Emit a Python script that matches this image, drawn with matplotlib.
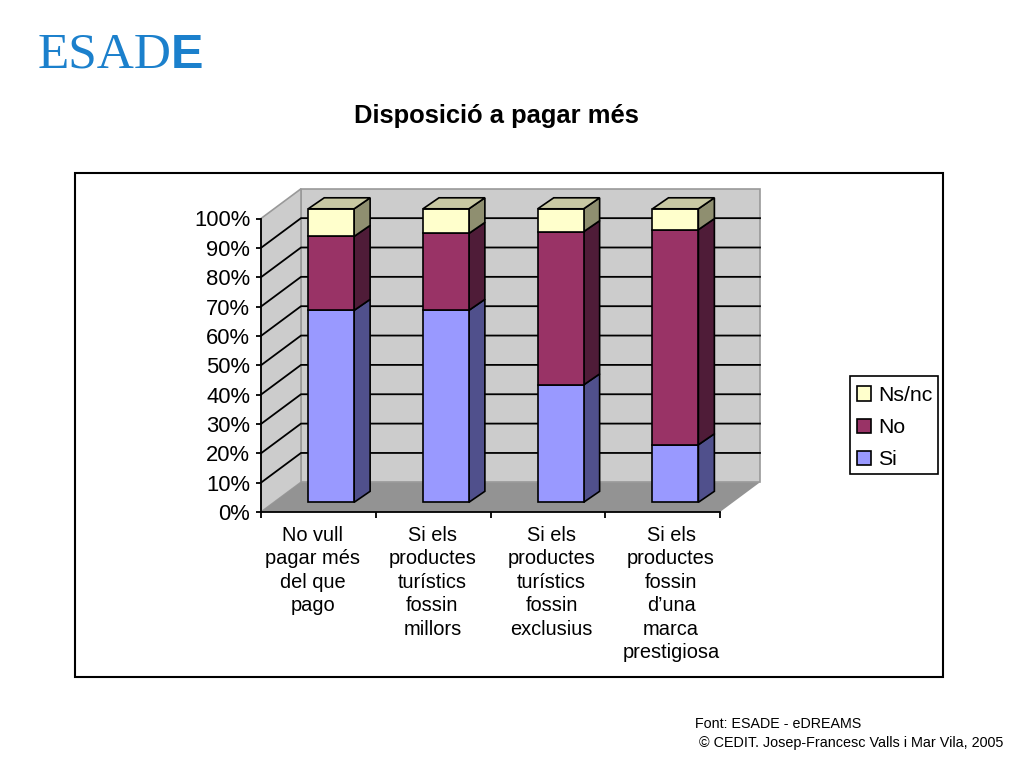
import matplotlib
matplotlib.use("Agg")
import matplotlib.pyplot as plt
from matplotlib.patches import Polygon, Rectangle

plt.rcParams['font.family'] = ['Liberation Sans', 'DejaVu Sans']

categories = ["No vull\npagar més\ndel que\npago",
              "Si els\nproductes\nturístics\nfossin\nmillors",
              "Si els\nproductes\nturístics\nfossin\nexclusius",
              "Si els\nproductes\nfossin\nd’una\nmarca\nprestigiosa"]
si = [65.4, 65.4, 40.0, 19.6]
no = [25.2, 26.2, 52.2, 73.3]
ns_nc = [9.4, 8.4, 7.8, 7.1]
series_names = ["Si", "No", "Ns/nc"]
y_ticks = list(range(0, 101, 10))
y_labels = [f"{v}%" for v in y_ticks]

FRONT = ["#9999FF", "#993366", "#FFFFCC"]
SIDE = ["#50508C", "#4F1C38", "#8F8F70"]
TOP = "#C9C9A3"
W, H = 1024, 768

fig = plt.figure(figsize=(W / 100, H / 100), dpi=100, facecolor="white")


def px_rect(x0, y0, x1, y1):
    return [x0 / W, 1 - y1 / H, (x1 - x0) / W, (y1 - y0) / H]


# outer chart frame and legend box
fig.add_artist(Rectangle((75 / W, 1 - 677 / H), 868 / W, 504 / H, transform=fig.transFigure,
                         facecolor="white", edgecolor="black", linewidth=1.5, zorder=-2))
fig.add_artist(Rectangle((850 / W, 1 - 474 / H), 88 / W, 98 / H, transform=fig.transFigure,
                         facecolor="white", edgecolor="black", linewidth=1.2, zorder=-1))

ax = fig.add_axes(px_rect(261, 218.5, 720, 512))
ax.patch.set_visible(False)
ax.set_xlim(0, 4)
ax.set_ylim(0, 100)

per_cat = 114.75
per_pct = 2.935
wall_dx, wall_dy = 40 / per_cat, 29.7 / per_pct
bar_dx, bar_dy = 12.8 / per_cat, 9.7 / per_pct
depth_dx, depth_dy = 16 / per_cat, 11 / per_pct
bar_w = 0.4
n = len(categories)

# walls and floor
ax.add_patch(Polygon([(wall_dx, wall_dy), (n + wall_dx, wall_dy), (n + wall_dx, 100 + wall_dy), (wall_dx, 100 + wall_dy)],
                     facecolor="#CCCCCC", edgecolor="#999999", linewidth=1.2, zorder=1, clip_on=False))
ax.add_patch(Polygon([(0, 0), (wall_dx, wall_dy), (wall_dx, 100 + wall_dy), (0, 100)],
                     facecolor="#CCCCCC", edgecolor="#999999", linewidth=1.2, zorder=1, clip_on=False))
ax.add_patch(Polygon([(0, 0), (wall_dx, wall_dy), (n + wall_dx, wall_dy), (n, 0)],
                     facecolor="#939393", edgecolor="none", zorder=2, clip_on=False))

# gridlines
for v in y_ticks[1:-1]:
    ax.plot([0, wall_dx, n + wall_dx], [v, v + wall_dy, v + wall_dy], color="black", lw=1.3,
            zorder=2, clip_on=False, solid_joinstyle="miter")

# bars
centers = [i + 0.5 + bar_dx for i in range(n)]
bottoms = [bar_dy] * n
for s, vals in enumerate([si, no, ns_nc]):
    ax.bar(centers, vals, bar_w, bottom=bottoms, color=FRONT[s], edgecolor="black",
           linewidth=1.2, zorder=5 + s * 0.1, clip_on=False, label=series_names[s])
    for c, v, bt in zip(centers, vals, bottoms):
        xr = c + bar_w / 2
        ax.add_patch(Polygon([(xr, bt), (xr + depth_dx, bt + depth_dy), (xr + depth_dx, bt + v + depth_dy), (xr, bt + v)],
                             facecolor=SIDE[s], edgecolor="black", linewidth=1.2,
                             zorder=4 + s * 0.1, clip_on=False))
    bottoms = [bt + v for bt, v in zip(bottoms, vals)]
for c, t in zip(centers, bottoms):
    xl, xr = c - bar_w / 2, c + bar_w / 2
    ax.add_patch(Polygon([(xl, t), (xr, t), (xr + depth_dx, t + depth_dy), (xl + depth_dx, t + depth_dy)],
                         facecolor=TOP, edgecolor="black", linewidth=1.2, zorder=6, clip_on=False))

# axes
for side in ("top", "right"):
    ax.spines[side].set_visible(False)
for side in ("left", "bottom"):
    ax.spines[side].set_linewidth(1.3)
    ax.spines[side].set_zorder(7)
ax.set_yticks(y_ticks, y_labels, fontsize=15.8)
ax.tick_params(axis="y", length=3.5, width=1.3, pad=4.2)
ax.set_xticks(list(range(n + 1)), minor=True)
ax.tick_params(axis="x", which="minor", length=4, width=1.3)
ax.set_xticks([0.453 + 1.04 * i for i in range(n)], categories, fontsize=14.4, linespacing=1.3,
              ha="center", va="top")
ax.tick_params(axis="x", which="major", length=0, pad=10)

# legend
h, l = ax.get_legend_handles_labels()
leg = ax.legend(h[::-1], l[::-1], loc="upper left", bbox_to_anchor=(857 / W, 1 - 386 / H),
                bbox_transform=fig.transFigure, fontsize=15.3, frameon=False, borderaxespad=0,
                handlelength=0.66, handleheight=0.66, handletextpad=0.33, labelspacing=0.62,
                borderpad=0)
leg.set_zorder(8)

# texts
fig.text(496 / W, 1 - 116 / H, "Disposició a pagar més", fontsize=18.4, fontweight="bold",
         ha="center", va="center")
fig.text(695 / W, 1 - 724 / H, "Font: ESADE - eDREAMS", fontsize=10.3, ha="left", va="center")
fig.text(699 / W, 1 - 743 / H, "© CEDIT. Josep-Francesc Valls i Mar Vila, 2005", fontsize=10.35,
         ha="left", va="center")

# logo
LOGO = "#1B80CC"
fig.text(38 / W, 1 - 68 / H, "ESAD", fontsize=37, family="Liberation Serif", color=LOGO,
         ha="left", va="baseline")
fig.text(171 / W, 1 - 68 / H, "E", fontsize=35, family="Liberation Sans",
         fontweight="bold", color=LOGO, ha="left", va="baseline")

fig.savefig("out.png", dpi=100, facecolor="white")
